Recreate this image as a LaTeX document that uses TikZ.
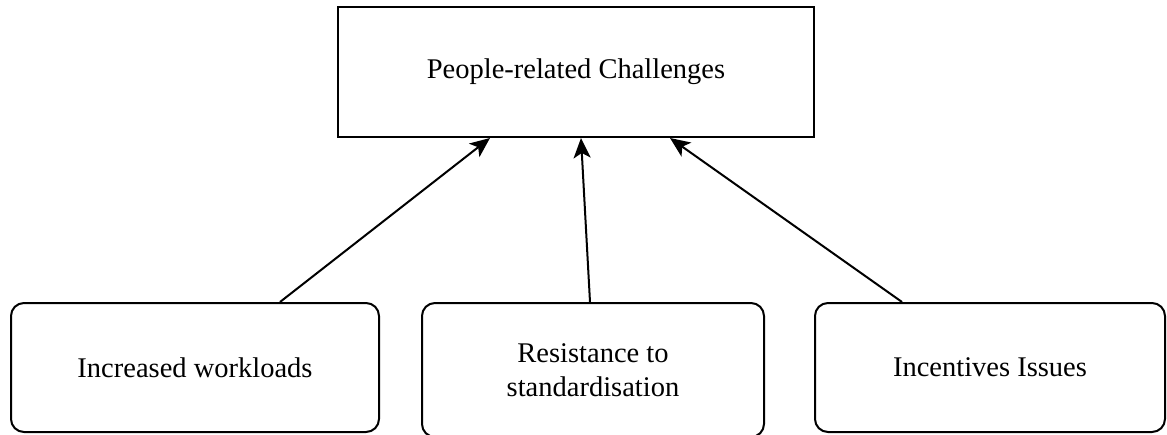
\documentclass[tikz,border=0pt]{standalone}
\usepackage{fontspec}
\setmainfont{Liberation Serif}
\usetikzlibrary{arrows.meta}
\begin{document}
\begin{tikzpicture}[x=1pt,y=-1pt,
  headbox/.style={draw, line width=2pt, minimum width=476pt, minimum height=130pt, inner sep=0pt, font=\fontsize{28.5}{34}\selectfont},
  causebox/.style={draw, line width=2pt, rounded corners=13pt, inner sep=0pt, align=center, font=\fontsize{28.5}{34}\selectfont},
  link/.style={line width=2pt, -{Stealth[length=20pt,width=17pt,inset=5pt]}}]
  \useasboundingbox (0,0) rectangle (1167,434);
  \node[headbox] (head) at (576,72) {People-related Challenges};
  \node[causebox, minimum width=368pt, minimum height=129pt] (work) at (195,367.5) {Increased workloads};
  \node[causebox, minimum width=342pt, minimum height=134pt] (resist) at (593,370) {Resistance to\\standardisation};
  \node[causebox, minimum width=350pt, minimum height=129pt] (incent) at (990,367.5) {Incentives Issues};
  \draw[link] ([xshift=85pt]work.north) -- ([xshift=-86pt]head.south);
  \draw[link] ([xshift=-3pt]resist.north) -- ([xshift=5pt]head.south);
  \draw[link] ([xshift=-88pt]incent.north) -- ([xshift=94pt]head.south);
\end{tikzpicture}
\end{document}
